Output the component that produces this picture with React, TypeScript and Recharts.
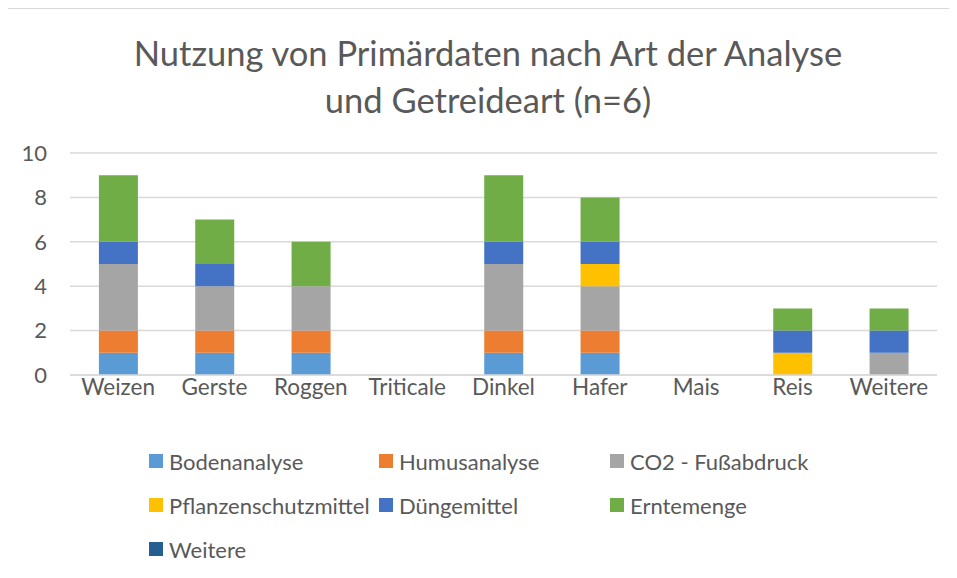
import { Bar, BarChart, CartesianGrid, Legend, XAxis, YAxis } from "recharts";

const categories = ["Weizen", "Gerste", "Roggen", "Triticale", "Dinkel", "Hafer", "Mais", "Reis", "Weitere"];

const bodenanalyse = [1, 1, 1, 0, 1, 1, 0, 0, 0];
const humusanalyse = [1, 1, 1, 0, 1, 1, 0, 0, 0];
const co2 = [3, 2, 2, 0, 3, 2, 0, 0, 1];
const pflanzenschutz = [0, 0, 0, 0, 0, 1, 0, 1, 0];
const duengemittel = [1, 1, 0, 0, 1, 1, 0, 1, 1];
const erntemenge = [3, 2, 2, 0, 3, 2, 0, 1, 1];
const weitere = [0, 0, 0, 0, 0, 0, 0, 0, 0];

const yTicks = [0, 2, 4, 6, 8, 10];

const series = [
  { key: "boden", name: "Bodenanalyse", color: "#5B9BD5", values: bodenanalyse },
  { key: "humus", name: "Humusanalyse", color: "#ED7D31", values: humusanalyse },
  { key: "co2", name: "CO2 - Fußabdruck", color: "#A5A5A5", values: co2 },
  { key: "psm", name: "Pflanzenschutzmittel", color: "#FFC000", values: pflanzenschutz },
  { key: "duenger", name: "Düngemittel", color: "#4472C4", values: duengemittel },
  { key: "ernte", name: "Erntemenge", color: "#70AD47", values: erntemenge },
  { key: "weitere", name: "Weitere", color: "#255E91", values: weitere },
];

const data = categories.map((name, i) => {
  const row: Record<string, string | number> = { name };
  series.forEach((s) => {
    row[s.key] = s.values[i];
  });
  return row;
});

const FONT = "Lato, 'Open Sans', sans-serif";
const TEXT = "#595959";

function LegendBox() {
  return (
    <div
      style={{
        display: "grid",
        gridTemplateColumns: "230px 231px 230px",
        gridAutoRows: "44px",
        paddingLeft: 141,
        height: 132,
        boxSizing: "border-box",
        fontFamily: FONT,
        fontSize: 22,
        color: TEXT,
      }}
    >
      {series.map((s) => (
        <div key={s.key} style={{ display: "flex", alignItems: "center", whiteSpace: "nowrap" }}>
          <span style={{ width: 14, height: 14, background: s.color, marginRight: 6, flex: "none" }} />
          {s.name}
        </div>
      ))}
    </div>
  );
}

export default function App() {
  return (
    <div
      style={{
        position: "relative",
        width: 960,
        height: 580,
        border: "1px solid #d9d9d9",
        marginLeft: -1,
        background: "#fff",
      }}
    >
      <div
        style={{
          position: "absolute",
          top: 20,
          left: 0,
          width: 960,
          textAlign: "center",
          fontFamily: FONT,
          fontSize: 34.5,
          lineHeight: "47px",
          color: TEXT,
        }}
      >
        Nutzung von Primärdaten nach Art der Analyse
        <br />
        und Getreideart (n=6)
      </div>
      <BarChart
        width={949}
        height={570}
        data={data}
        margin={{ top: 144, right: 20, left: 22, bottom: 8 }}
        barCategoryGap="30%"
      >
        <CartesianGrid vertical={false} stroke="#d9d9d9" strokeWidth={1.5} />
        <XAxis
          dataKey="name"
          height={64}
          axisLine={{ stroke: "#d9d9d9", strokeWidth: 1.5 }}
          tickLine={false}
          tickMargin={-2}
          tick={{ fontSize: 22.5, fill: TEXT, fontFamily: FONT }}
          interval={0}
        />
        <YAxis
          width={40}
          domain={[0, 10]}
          ticks={yTicks}
          axisLine={false}
          tickLine={false}
          tickSize={0}
          tickMargin={23}
          tick={{ fontSize: 22, fill: TEXT, fontFamily: FONT }}
        />
        <Legend
          verticalAlign="bottom"
          content={<LegendBox />}
          wrapperStyle={{ left: 0, width: 949, height: 132 }}
        />
        {series.map((s) => (
          <Bar
            key={s.key}
            dataKey={s.key}
            name={s.name}
            stackId="a"
            fill={s.color}
            isAnimationActive={false}
          />
        ))}
      </BarChart>
    </div>
  );
}
